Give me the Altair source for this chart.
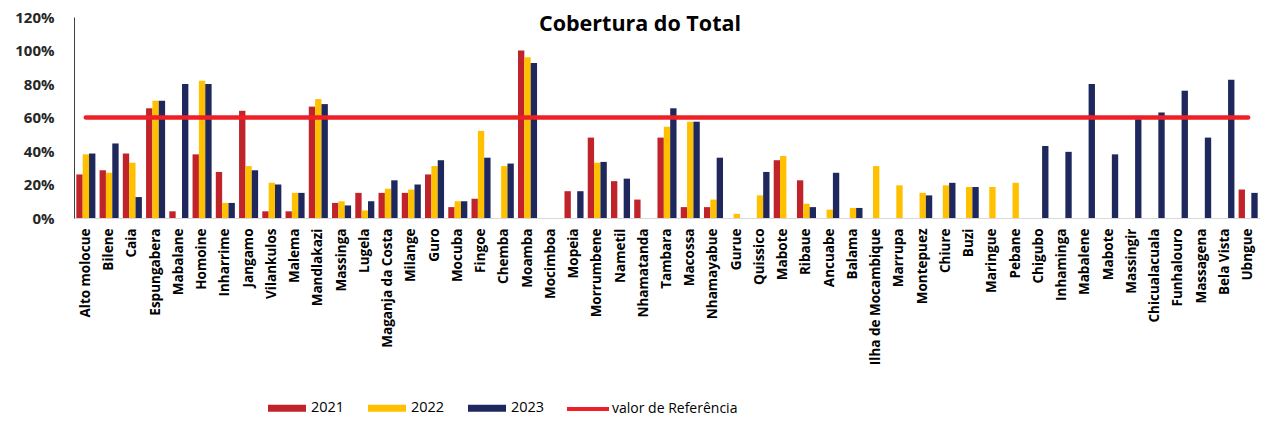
import json
import altair as alt
import pandas as pd

names = ["Alto molocue", "Bilene", "Caia", "Espungabera", "Mabalane", "Homoine", "Inharrime",
         "Jangamo", "Vilankulos", "Malema", "Mandlakazi", "Massinga", "Lugela", "Maganja da Costa",
         "Milange", "Guro", "Mocuba", "Fingoe", "Chemba", "Moamba", "Mocimboa", "Mopeia",
         "Morrumbene", "Nametil", "Nhamatanda", "Tambara", "Macossa", "Nhamayabue", "Gurue",
         "Quissico", "Mabote", "Ribaue", "Ancuabe", "Balama", "Ilha de Mocambique", "Marrupa",
         "Montepuez", "Chiure", "Buzi", "Maringue", "Pebane", "Chigubo", "Inhaminga", "Mabalene",
         "Mabote", "Massingir", "Chicualacuala", "Funhalouro", "Massagena", "Bela Vista", "Ubngue"]

v2021 = [26, 28.5, 38.5, 65.5, 4, 38, 27.5, 64, 4, 4, 66.5, 9, 15, 15, 15, 26, 6.5, 11.5, None, 100,
         None, 16, 48, 22, 11, 48, 6.5, 6.5, None, None, 34.5, 22.5, None, None, None, None, None,
         None, None, None, None, None, None, None, None, None, None, None, None, None, 17]
v2022 = [38, 27, 33, 70, None, 82, 9, 31, 21, 15, 71, 10, 4.5, 17.5, 17, 31, 10, 52, 31, 96,
         None, None, 33, None, None, 54.5, 57.5, 11, 2.5, 13.5, 37, 8.5, 5, 6, 31, 19.5, 15,
         19.5, 18.5, 18.5, 21, None, None, None, None, None, None, None, None, None, None]
v2023 = [38.5, 44.5, 12.5, 70, 80, 80, 9, 28.5, 20, 15, 68, 7.5, 10, 22.5, 20, 34.5, 10, 36, 32.5, 92.5,
         None, 16, 33.5, 23.5, None, 65.5, 57.5, 36, None, 27.5, None, 6.5, 27, 6, None, None, 13.5,
         21, 18.5, None, None, 43, 39.5, 80, 38, 59, 63, 76, 48, 82.5, 15]

years = ["2021", "2022", "2023"]
year_colors = ["#C1232B", "#FFC000", "#1F285C"]
ref_value = 60
ref_label = "valor de Referência"

rows = []
for yr, vals in zip(years, [v2021, v2022, v2023]):
    for i, v in enumerate(vals):
        if v is not None:
            rows.append({"idx": i, "year": yr, "value": v})
bars_df = pd.DataFrame(rows)
ref_df = pd.DataFrame({"idx": list(range(len(names))), "value": [ref_value] * len(names),
                       "ref": [ref_label] * len(names)})

label_expr = json.dumps(names) + "[datum.value]"
FONT = "Open Sans"

x_enc = alt.X("idx:O",
              scale=alt.Scale(domain=list(range(len(names))), paddingInner=0.18, paddingOuter=0.1),
              axis=alt.Axis(title=None, labelExpr=label_expr, labelAngle=270, ticks=False,
                            domainColor="#D9D9D9", labelFontSize=13.5, labelFontWeight="bold",
                            labelColor="black", labelPadding=10, labelFont=FONT, labelOverlap=False))
y_enc = alt.Y("value:Q", scale=alt.Scale(domain=[0, 120], nice=False),
              axis=alt.Axis(title=None, values=[0, 20, 40, 60, 80, 100, 120],
                            labelExpr="datum.value + '%'", ticks=False, grid=False,
                            domainColor="#404040", labelFontSize=15, labelFontWeight="bold",
                            labelColor="#262626", labelPadding=20, labelFont=FONT))

bars = alt.Chart(bars_df).mark_bar().encode(
    x=x_enc,
    xOffset=alt.XOffset("year:N", scale=alt.Scale(domain=years, paddingInner=0, paddingOuter=0)),
    y=y_enc,
    color=alt.Color("year:N", scale=alt.Scale(domain=years, range=year_colors),
                    legend=alt.Legend(title=None, orient="none", legendX=194, legendY=372,
                                      direction="horizontal", symbolType="M-1,-0.18H1V0.18H-1Z",
                                      symbolSize=1444, symbolStrokeWidth=0, labelFontSize=14.5,
                                      labelFont=FONT, labelColor="black", labelOffset=5,
                                      columnPadding=23)),
)

line = alt.Chart(ref_df).mark_line(strokeWidth=4.5, strokeCap="round").encode(
    x=x_enc,
    y=y_enc,
    stroke=alt.Stroke("ref:N", scale=alt.Scale(domain=[ref_label], range=["#EE2026"]),
                      legend=alt.Legend(title=None, orient="none", legendX=491, legendY=369,
                                        symbolType="stroke", symbolSize=1764, symbolStrokeWidth=4,
                                        labelFontSize=14, labelFont=FONT, labelColor="black",
                                        labelOffset=1)),
)

chart = alt.layer(bars, line).properties(
    width=1186, height=201,
    title=alt.Title("Cobertura do Total", fontSize=21.5, font=FONT, fontWeight="bold",
                    offset=-25, dx=-27, anchor="middle", color="black"),
    padding={"left": 66, "top": 9, "right": 0, "bottom": 200},
    autosize=alt.AutoSizeParams(type="none"),
).configure_view(stroke=None)

chart.save("out.html", embed_options={"renderer": "svg", "actions": False})
